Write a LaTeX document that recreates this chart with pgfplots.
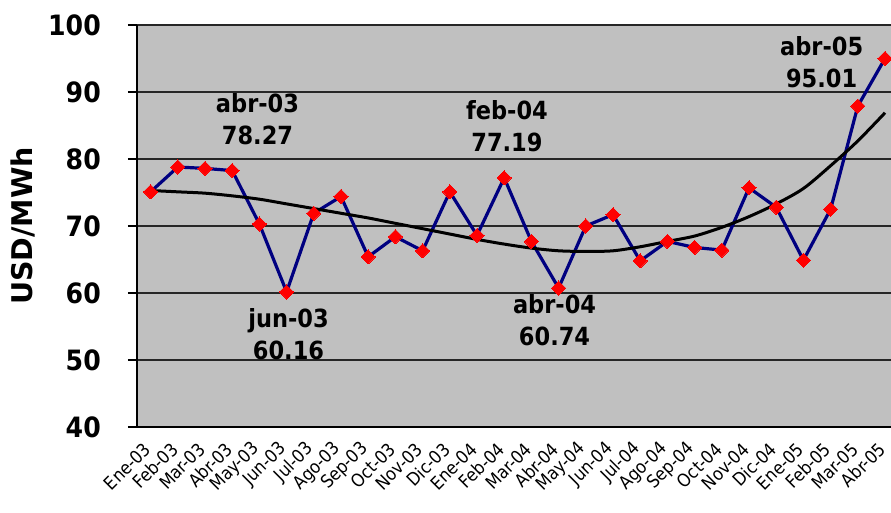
\documentclass[border=0pt]{standalone}
\usepackage{fontspec}
\setmainfont{DejaVu Sans Condensed}
\newfontfamily\widefont{DejaVu Sans}
\usepackage{pgfplots}
\pgfplotsset{compat=1.18}
\definecolor{plotgray}{RGB}{192,192,192}
\definecolor{navyline}{RGB}{0,0,128}
\pgfplotstableread{
x y
0 75.1
1 78.8
2 78.6
3 78.27
4 70.3
5 60.16
6 71.9
7 74.4
8 65.4
9 68.4
10 66.3
11 75.1
12 68.6
13 77.19
14 67.7
15 60.74
16 70.0
17 71.7
18 64.8
19 67.7
20 66.8
21 66.4
22 75.7
23 72.8
24 64.9
25 72.5
26 87.9
27 95.01
}\pricedata
\pgfplotstableread{
x y
0 75.3
1 75.1
2 74.9
3 74.5
4 74.0
5 73.3
6 72.6
7 71.9
8 71.2
9 70.4
10 69.6
11 68.8
12 68.0
13 67.3
14 66.7
15 66.3
16 66.2
17 66.3
18 66.9
19 67.7
20 68.5
21 69.8
22 71.4
23 73.3
24 75.6
25 79.0
26 82.7
27 86.9
}\trenddata
\begin{document}
\begin{tikzpicture}
\begin{axis}[
  scale only axis, width=754pt, height=402pt,
  xmin=-0.5, xmax=27.22, ymin=40, ymax=100,
  axis background/.style={fill=plotgray},
  axis x line*=bottom, axis y line*=left,
  x axis line style={line width=2.4pt},
  y axis line style={line width=1.8pt},
  clip=false,
  ytick={40,50,...,100},
  xtick={0,...,27},
  xticklabels={Ene-03,Feb-03,Mar-03,Abr-03,May-03,Jun-03,Jul-03,Ago-03,Sep-03,Oct-03,Nov-03,Dic-03,Ene-04,Feb-04,Mar-04,Abr-04,May-04,Jun-04,Jul-04,Ago-04,Sep-04,Oct-04,Nov-04,Dic-04,Ene-05,Feb-05,Mar-05,Abr-05},
  ymajorgrids, grid style={black!85, line width=1.2pt},
  tick align=outside,
  xtick style={draw=none},
  ytick style={black, line width=1.2pt},
  major tick length=9pt,
  /pgf/number format/assume math mode=true,
  yticklabel style={font=\fontsize{28}{30}\selectfont\bfseries, anchor=east, inner sep=0pt, xshift=-27pt},
  xticklabel style={font=\fontsize{18}{20}\selectfont, xshift=-3pt, yshift=-10pt, rotate=45, anchor=east, inner sep=0pt},
  ylabel={USD/MWh},
  ylabel style={font=\widefont\fontsize{28.5}{30}\selectfont\bfseries, at={(axis description cs:-0.1512,0.5)}, anchor=center, rotate=0},
]
\addplot[navyline, line width=3.2pt, mark=square*, mark size=5pt,
  mark options={fill=red, draw=red, rotate=45, line width=0pt, solid}] table[x=x,y=y] {\pricedata};
\addplot[black, line width=3pt, smooth, no marks] table[x=x,y=y] {\trenddata};
\begin{scope}[every node/.style={font=\fontsize{25}{32}\selectfont\bfseries, align=center}]
\node at (axis cs:3.93,86.0) {abr-03\\78.27};
\node at (axis cs:5.07,53.9) {jun-03\\60.16};
\node at (axis cs:13.1,84.9) {feb-04\\77.19};
\node at (axis cs:14.85,56.0) {abr-04\\60.74};
\node at (axis cs:24.67,94.5) {abr-05\\95.01};
\end{scope}
\end{axis}
\pgfresetboundingbox
\path[use as bounding box] ([xshift=-137pt,yshift=-85pt]current axis.south west) rectangle ([yshift=25pt]current axis.north east);
\end{tikzpicture}
\end{document}
